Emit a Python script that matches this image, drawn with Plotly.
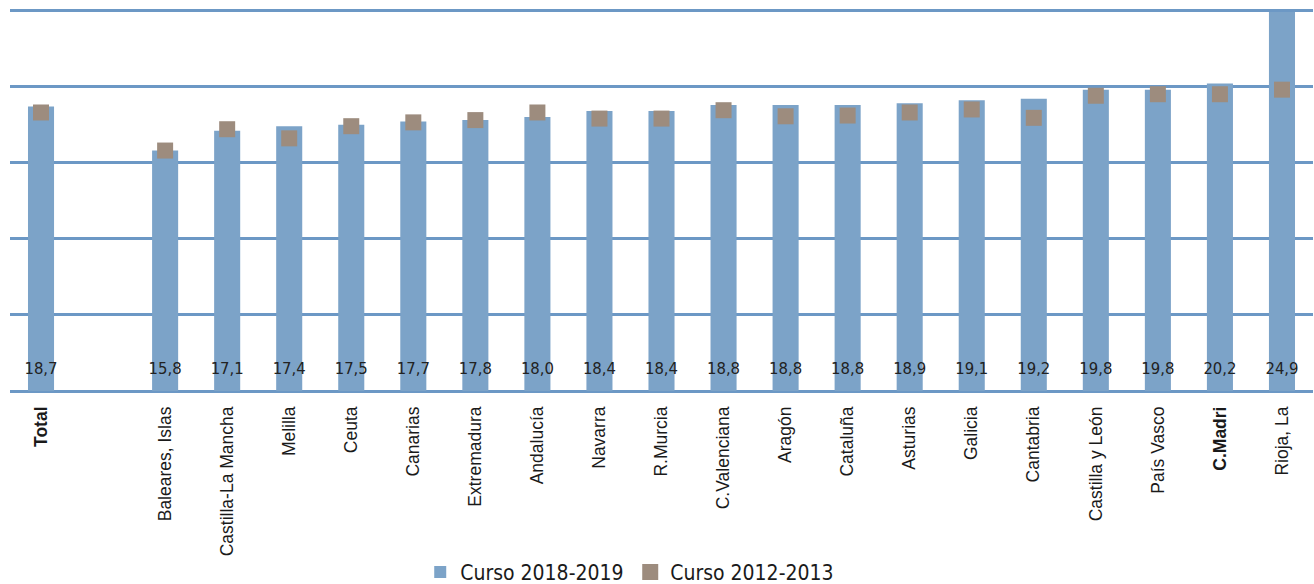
import plotly.graph_objects as go

categories = ["Total", " ", "Baleares, Islas", "Castilla-La Mancha", "Melilla", "Ceuta",
              "Canarias", "Extremadura", "Andalucía", "Navarra", "R.Murcia",
              "C.Valenciana", "Aragón", "Cataluña", "Asturias", "Galicia",
              "Cantabria", "Castilla y León", "País Vasco", "C.Madri", "Rioja, La"]
bold_labels = ["Total", "C.Madri"]
curso_2018_2019 = [18.7, None, 15.8, 17.1, 17.4, 17.5, 17.7, 17.8, 18.0, 18.4, 18.4,
                   18.8, 18.8, 18.8, 18.9, 19.1, 19.2, 19.8, 19.8, 20.2, 24.9]
curso_2012_2013 = [18.3, None, 15.8, 17.2, 16.6, 17.4, 17.65, 17.8, 18.3, 17.9, 17.9,
                   18.45, 18.05, 18.1, 18.3, 18.5, 17.95, 19.4, 19.5, 19.5, 19.8]

BAR = "#7CA3C8"
GRID = "#6C98C5"
MARK = "#9D8C7E"
NARROW = "Liberation Sans Narrow, Arial Narrow, DejaVu Sans Condensed, sans-serif"

ticktext = [f"<b>{c}</b>" if c in bold_labels else c for c in categories]
value_text = ["" if v is None else f"{v:.1f}".replace(".", ",") for v in curso_2018_2019]
label_y = [1.4 for _ in categories]

fig = go.Figure()
fig.add_trace(go.Bar(
    x=categories, y=curso_2018_2019, name="Curso 2018-2019",
    marker=dict(color=BAR, line=dict(width=0)), hoverinfo="skip"))
fig.add_trace(go.Scatter(
    x=categories, y=curso_2012_2013, name="Curso 2012-2013", mode="markers",
    marker=dict(symbol="square", size=16, color=MARK, line=dict(width=0))))
fig.add_trace(go.Scatter(
    x=categories, y=label_y, mode="text", text=value_text, showlegend=False,
    textfont=dict(family=NARROW, size=16.5, color="#222222"), hoverinfo="skip"))

fig.update_layout(
    width=1314, height=584,
    margin=dict(l=10, r=1, t=9, b=193, autoexpand=False),
    plot_bgcolor="white", paper_bgcolor="white",
    bargap=0.58,
    font=dict(family="Liberation Sans, Arial, sans-serif", color="#1a1a1a"),
    legend=dict(orientation="h", x=0.476, xanchor="center", y=-0.475, yanchor="middle",
                font=dict(family=NARROW, size=21, color="#1a1a1a"),
                traceorder="normal", itemwidth=30, entrywidth=165),
    showlegend=True,
)
fig.update_xaxes(
    type="category", categoryorder="array", categoryarray=categories,
    tickvals=categories, ticktext=ticktext, tickangle=-90,
    tickfont=dict(size=17.5, color="#1a1a1a"),
    showgrid=False, ticks="", ticklabelstandoff=11, automargin=False,
    showline=False, range=[-0.5, len(categories) - 0.5])
fig.update_yaxes(
    range=[0, 25.1], tickvals=[0, 5, 10, 15, 20, 25], showticklabels=False,
    showgrid=True, gridcolor=GRID, gridwidth=2.5, automargin=False,
    zeroline=True, zerolinecolor=GRID, zerolinewidth=3)

fig.write_html("out.html", config={"displayModeBar": False},
               post_script="document.body.style.margin='0';")
